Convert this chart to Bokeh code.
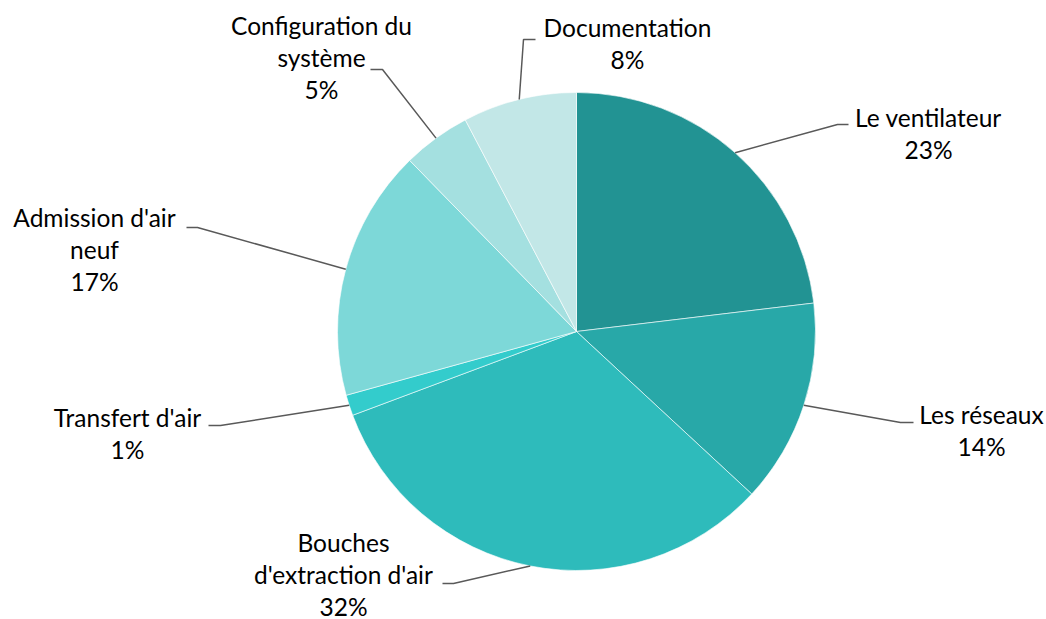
import numpy as np
from bokeh.plotting import figure
from bokeh.models import Range1d, ColumnDataSource
from bokeh.core.properties import value
from bokeh.embed import file_html
from bokeh.resources import INLINE

# ---- data ----
categories = ["Le ventilateur", "Les réseaux", "Bouches d'extraction d'air",
              "Transfert d'air", "Admission d'air neuf", "Configuration du système",
              "Documentation"]
label_lines = [["Le ventilateur"], ["Les réseaux"], ["Bouches", "d'extraction d'air"],
               ["Transfert d'air"], ["Admission d'air", "neuf"],
               ["Configuration du", "système"], ["Documentation"]]
values = [23.1, 13.8, 32.4, 1.4, 17.0, 4.6, 7.7]
colors = ["#229393", "#28A8A8", "#2EBBBB", "#33CCCC", "#7DD8D8", "#A4E0E0", "#C2E7E7"]

# ---- layout (screen pixel coordinates of the reference) ----
W, H = 1046, 619
def X(x): return x
def Y(y): return H - y

cx, cy, R = X(576), Y(331), 239
# elbow point, end point of leader, label centre x, first baseline y
elbows = [(837, 124), (900, 422), (453, 583), (220, 425), (197, 227), (382, 69), (523, 39)]
ends = [(848, 124), (913, 422), (442, 583), (208, 425), (186, 227), (370, 69), (535, 39)]
lab_cx = [928, 981, 343, 127, 94, 321, 627]
lab_y0 = [117, 414, 542, 417, 217, 25, 27]
LH = 32.2

p = figure(width=W, height=H, x_range=Range1d(0, W), y_range=Range1d(0, H),
           output_backend="svg", toolbar_location=None, min_border=0)
p.axis.visible = False
p.grid.visible = False
p.outline_line_color = None
p.background_fill_color = "white"

vals = np.array(values, dtype=float)
frac = vals / vals.sum()
cum = np.concatenate([[0], np.cumsum(frac)])
start = np.pi / 2 - cum[:-1] * 2 * np.pi
end = np.pi / 2 - cum[1:] * 2 * np.pi
src = ColumnDataSource(dict(start=start, end=end, color=colors))
p.wedge(x=cx, y=cy, radius=R, start_angle="start", end_angle="end",
        direction="clock", fill_color="color", line_color="white",
        line_width=1, line_alpha=0.6, source=src)

mid = (cum[:-1] + cum[1:]) / 2
xs, ys = [], []
for i, m in enumerate(mid):
    a = m * 2 * np.pi
    sx = cx + R * np.sin(a)
    sy = cy + R * np.cos(a)
    xs.append([sx, X(elbows[i][0]), X(ends[i][0])])
    ys.append([sy, Y(elbows[i][1]), Y(ends[i][1])])
p.multi_line(xs=xs, ys=ys, line_color="#595959", line_width=1.5)

tx, ty, tt = [], [], []
pct = [f"{int(round(v))}%" for v in frac * 100]
for i in range(len(categories)):
    lines = label_lines[i] + [pct[i]]
    for j, ln in enumerate(lines):
        tx.append(X(lab_cx[i]))
        ty.append(Y(lab_y0[i] + j * LH))
        tt.append(ln)
p.text(x=tx, y=ty, text=tt, text_align="center", text_baseline="alphabetic",
       text_font=value("Lato"), text_font_size="24.5px", text_color="#000000")

open("out.html", "w").write(file_html(p, INLINE))
